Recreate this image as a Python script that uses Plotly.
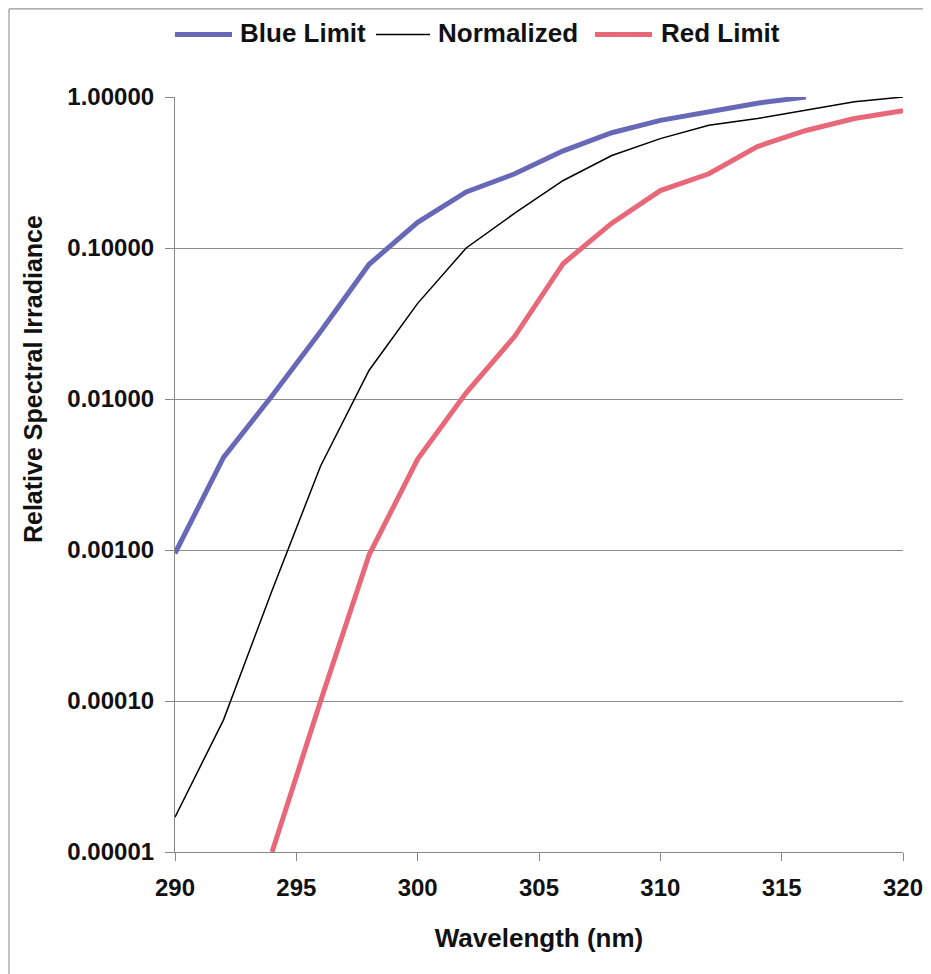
import plotly.graph_objects as go

wavelength = [290, 292, 294, 296, 298, 300, 302, 304, 306, 308, 310, 312, 314, 316, 318, 320]

blue_wl = [290, 292, 294, 296, 298, 300, 302, 304, 306, 308, 310, 312, 314, 316]
blue_limit = [0.00095, 0.0041, 0.0105, 0.028, 0.078, 0.148, 0.235, 0.31, 0.44, 0.58, 0.70, 0.80, 0.91, 1.0]

normalized = [0.000017, 0.000075, 0.00054, 0.0036, 0.0155, 0.043, 0.10, 0.17, 0.28, 0.41, 0.53, 0.65, 0.72, 0.82, 0.93, 1.0]

red_wl = [294, 296, 298, 300, 302, 304, 306, 308, 310, 312, 314, 316, 318, 320]
red_limit = [0.00001, 0.0001, 0.00093, 0.004, 0.011, 0.026, 0.079, 0.146, 0.24, 0.31, 0.47, 0.60, 0.72, 0.81]

series_names = ["Blue Limit", "Normalized", "Red Limit"]
series_colors = ["#6868b8", "#000000", "#e8687a"]
series_widths = [5, 1.5, 5]

y_tickvals = [0.00001, 0.0001, 0.001, 0.01, 0.1, 1.0]
y_ticktext = ["0.00001", "0.00010", "0.00100", "0.01000", "0.10000", "1.00000"]
x_tickvals = [290, 295, 300, 305, 310, 315, 320]

FONT = "Arial, Liberation Sans, sans-serif"
TXT = "#111111"

fig = go.Figure()
for xs, ys, name, col, w in zip([blue_wl, wavelength, red_wl],
                                [blue_limit, normalized, red_limit],
                                series_names, series_colors, series_widths):
    fig.add_trace(go.Scatter(x=xs, y=ys, mode="lines", name=name,
                             line=dict(color=col, width=w), showlegend=False))

fig.update_layout(
    width=923, height=966,
    margin=dict(l=167, r=28, t=89, b=122, autoexpand=False),
    paper_bgcolor="white", plot_bgcolor="white",
    font=dict(family=FONT, size=24, color=TXT),
    showlegend=False,
    xaxis=dict(range=[290, 320], tickvals=x_tickvals, ticks="outside", ticklen=8,
               tickcolor="#888888", showline=True, linecolor="#888888", linewidth=1.2,
               showgrid=False, zeroline=False, ticklabelstandoff=6,
               tickfont=dict(family=FONT, size=24, color=TXT, weight="bold"),
               title=dict(text="Wavelength (nm)", standoff=28,
                          font=dict(family=FONT, size=26, color=TXT, weight="bold"))),
    yaxis=dict(type="log", range=[-5, 0], tickvals=y_tickvals, ticktext=y_ticktext,
               ticks="outside", ticklen=9, tickcolor="#888888",
               showline=True, linecolor="#888888", linewidth=1.2, ticklabelstandoff=6,
               showgrid=True, gridcolor="#8c8c8c", gridwidth=1, zeroline=False,
               tickfont=dict(family=FONT, size=24, color=TXT, weight="bold")),
)

# manual legend (long line samples as in the original)
legend_x = [(0.0, 0.0783, 0.0865), (0.2761, 0.3503, 0.3585), (0.5769, 0.6552, 0.6648)]
legend_y = 1.0848
for (x0, x1, xt), name, col, w in zip(legend_x, series_names, series_colors, series_widths):
    fig.add_shape(type="line", xref="paper", yref="paper", x0=x0, x1=x1,
                  y0=legend_y - 0.002, y1=legend_y - 0.002,
                  line=dict(color=col, width=w))
    fig.add_annotation(text=name, xref="paper", yref="paper", x=xt, y=legend_y,
                       xanchor="left", yanchor="middle", showarrow=False,
                       font=dict(family=FONT, size=26, color=TXT, weight="bold"))

fig.add_annotation(text="Relative Spectral Irradiance", xref="paper", yref="paper",
                   x=-0.195, y=0.6265, textangle=-90, showarrow=False,
                   xanchor="center", yanchor="middle",
                   font=dict(family=FONT, size=25, color=TXT, weight="bold"))

fig.add_shape(type="line", xref="paper", yref="paper",
              x0=-0.228, x1=1.04, y0=1.1166, y1=1.1166,
              line=dict(color="#999999", width=1.2))
fig.add_shape(type="line", xref="paper", yref="paper",
              x0=-0.228, x1=-0.228, y0=-0.165, y1=1.1166,
              line=dict(color="#999999", width=1.2))

fig.write_html("out.html")
